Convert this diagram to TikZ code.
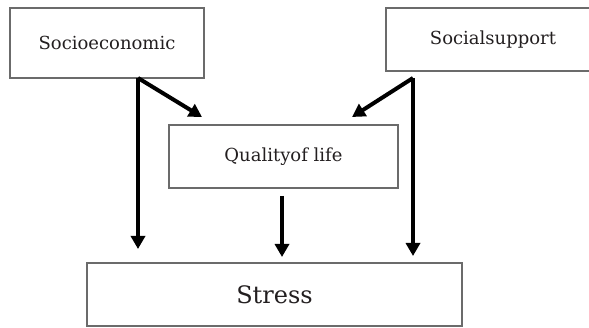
\documentclass[tikz,border=0pt]{standalone}
\usepackage{fontspec}
\setmainfont{DejaVu Serif}
\usetikzlibrary{arrows.meta}
\begin{document}
\begin{tikzpicture}[x=1pt,y=-1pt,
  box/.style={draw=boxgray,line width=2pt,inner sep=0pt,text=textgray,font=\fontsize{18}{21}\selectfont},
  arr/.style={line width=4pt,-{Triangle[length=13pt,width=14pt]}}]
\definecolor{boxgray}{HTML}{6B6B6B}
\definecolor{textgray}{HTML}{231F20}
\useasboundingbox (0,0) rectangle (589,328);
\clip (0,0) rectangle (589,328);
\node[box,minimum width=194pt,minimum height=70pt] (socio) at (107,43) {Socioeconomic};
\node[box,minimum width=214pt,minimum height=63pt] (social) at (493,39.5) {Socialsupport};
\node[box,minimum width=229pt,minimum height=63pt] (qol) at (283.5,156.5) {Qualityof life};
\node[box,minimum width=375pt,minimum height=63pt,font=\fontsize{24}{27}\selectfont] (stress) at (274.5,295) {Stress};
\coordinate (s0) at (138,78);
\coordinate (r0) at (413,78);
\coordinate (sd) at (202,117);
\coordinate (rd) at (352,117);
\coordinate (sv) at (138,249);
\coordinate (rv) at (413,256);
\coordinate (m0) at (282,196);
\coordinate (mv) at (282,257);
\draw[arr] (s0) -- (sd);
\draw[arr] (s0) -- (sv);
\draw[arr] (r0) -- (rd);
\draw[arr] (r0) -- (rv);
\draw[arr] (m0) -- (mv);
\end{tikzpicture}
\end{document}
